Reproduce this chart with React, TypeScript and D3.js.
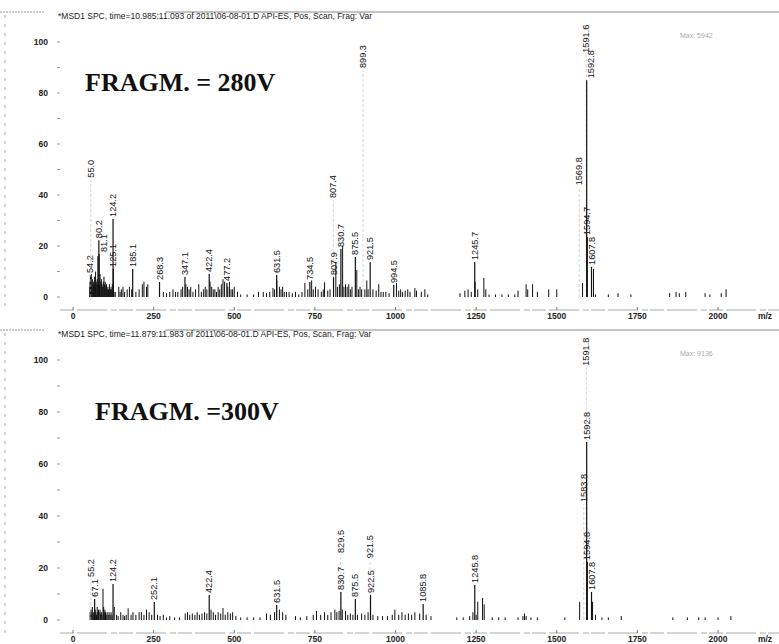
import React from "react";
import * as d3 from "d3";

// ---- data (m/z, relative abundance %) ----
const topTitle = "*MSD1 SPC, time=10.985:11.093 of 2011\\06-08-01.D    API-ES, Pos, Scan, Frag: Var";
const bottomTitle = "*MSD1 SPC, time=11.879:11.983 of 2011\\06-08-01.D    API-ES, Pos, Scan, Frag: Var";
const topMax = "Max: 5942";
const bottomMax = "Max: 9136";
const topFragm = "FRAGM. = 280V";
const bottomFragm = "FRAGM. =300V";

const xTicks = [0, 250, 500, 750, 1000, 1250, 1500, 1750, 2000];
const yTicks = [0, 20, 40, 60, 80, 100];

const topLabeled: [number, number][] = [
  [54.2, 8.6], [55.0, 46], [80.2, 22.3], [81.1, 16.9], [124.2, 30.6], [125.1, 11],
  [185.1, 11], [268.3, 5.9], [347.1, 7.8], [422.4, 9], [477.2, 5.5], [631.5, 8.6],
  [734.5, 5.9], [807.4, 38], [807.9, 7.8], [830.7, 18.8], [875.5, 15.7], [899.3, 89],
  [921.5, 13.7], [994.5, 4.7], [1245.7, 13.7], [1569.8, 43], [1591.6, 95],
  [1592.8, 85], [1594.7, 23.5], [1607.8, 11.8],
];

const topMinor: [number, number][] = [
  [52, 4], [53, 6], [56, 5], [57, 9], [58, 4], [60, 7], [62, 5], [64, 6], [65, 4],
  [67, 8], [68, 5], [70, 10], [72, 6], [74, 5], [75, 7], [77, 16], [78, 6], [82, 5],
  [84, 9], [86, 6], [88, 7], [90, 5], [92, 4], [94, 6], [96, 8], [98, 5], [100, 6],
  [102, 4], [104, 5], [106, 3], [108, 4], [110, 3], [113, 5], [116, 3], [118, 4],
  [120, 3], [122, 5], [127, 2], [131, 2], [142, 4], [146, 2], [150, 3], [155, 4],
  [160, 2], [168, 3], [175, 4], [182, 3], [195, 2], [205, 3], [215, 5], [220, 6],
  [228, 4], [232, 5], [280, 2], [290, 1.5], [300, 2], [310, 3], [318, 2], [325, 2],
  [335, 3], [340, 4], [350, 5], [355, 4], [360, 3], [365, 4], [372, 2], [380, 3],
  [390, 5], [398, 2], [405, 3], [410, 4], [415, 3], [425, 6], [430, 4], [435, 3],
  [440, 3], [445, 2], [450, 4], [455, 3], [460, 5], [465, 7], [470, 6], [480, 4],
  [485, 6], [490, 3], [495, 3], [500, 4], [510, 2], [520, 1], [540, 1], [560, 1],
  [575, 2], [590, 2], [600, 1.5], [610, 2], [620, 3.5], [625, 3], [632, 6.5],
  [640, 4], [645, 3], [650, 4], [655, 2], [662, 2], [670, 2], [680, 1.5], [690, 2],
  [700, 1], [710, 2], [719, 5.5], [728, 3], [740, 6.5], [745, 3], [752, 4], [760, 3],
  [770, 2], [776, 3], [780, 5.8], [790, 2.5], [797, 3], [815, 13.7], [820, 4],
  [826, 5], [836, 20], [840, 4], [845, 5], [850, 4], [855, 5], [860, 3], [865, 4],
  [880, 10.6], [885, 3], [890, 4], [895, 3], [905, 3], [911, 6.5], [915, 3],
  [930, 3], [940, 2.5], [948, 5], [955, 2], [962, 2], [970, 2], [980, 1.5],
  [1003, 5.5], [1010, 2.5], [1016, 3], [1022, 2], [1030, 2.5], [1038, 3], [1045, 2],
  [1060, 3.5], [1065, 2.5], [1080, 2], [1091, 3], [1100, 1], [1200, 1.5],
  [1215, 2.5], [1225, 3], [1235, 2], [1247, 6], [1255, 3], [1274, 7.5], [1280, 3],
  [1290, 1], [1310, 1], [1330, 1], [1350, 1], [1370, 1], [1380, 2.5], [1405, 5],
  [1410, 3], [1425, 5], [1440, 2], [1475, 3], [1500, 3], [1580, 5.5], [1614, 11],
  [1620, 1], [1660, 1], [1690, 1.5], [1730, 1], [1850, 1.5], [1870, 2], [1880, 1.5],
  [1900, 2], [1960, 1.5], [1975, 1], [2010, 1.5], [2025, 3],
];

const bottomLabeled: [number, number][] = [
  [55.2, 15.8], [67.1, 8.1], [124.2, 13.8], [252.1, 6.9], [422.4, 9.6], [631.5, 5.8],
  [829.5, 25], [830.7, 10.8], [875.5, 8.1], [921.5, 23], [922.5, 9.6], [1085.8, 6.2],
  [1245.8, 13.5], [1583.8, 44.6], [1591.8, 97], [1592.8, 68.5], [1594.8, 22.3],
  [1607.8, 10.8],
];

const bottomMinor: [number, number][] = [
  [53, 3], [56, 4], [58, 3], [60, 5], [63, 3], [65, 2], [69, 4], [71, 3], [73, 2],
  [75, 5], [77, 3], [79, 4], [81, 3], [84, 4], [86, 2.5], [88, 3], [90, 2], [93, 12],
  [95, 5], [97, 3], [99, 4], [101, 3], [103, 2], [106, 3], [109, 2], [112, 3],
  [115, 2], [118, 3], [121, 2], [128, 5], [135, 2], [140, 1.5], [148, 3], [155, 2],
  [160, 1.5], [165, 2], [171, 4.5], [180, 2], [186, 3], [195, 2], [205, 3],
  [212, 3], [220, 2], [228, 4], [236, 3], [244, 2], [262, 2], [270, 1.5], [280, 2],
  [290, 1], [300, 1.5], [315, 1], [330, 1], [348, 2.5], [355, 3], [362, 2],
  [370, 2.5], [378, 2], [385, 3], [392, 2], [400, 2.5], [408, 3], [415, 2.5],
  [428, 4], [435, 3], [442, 2], [450, 3], [458, 2.5], [465, 4.6], [472, 2],
  [480, 3], [488, 2.5], [495, 3], [505, 1.5], [520, 1], [540, 1], [560, 1],
  [580, 1], [600, 2.5], [612, 2], [625, 3], [640, 4], [650, 3], [660, 2],
  [690, 1.5], [705, 1], [725, 1.5], [745, 2], [755, 3.5], [768, 2], [780, 3],
  [790, 2], [800, 3], [812, 4], [818, 3], [825, 3.5], [835, 4], [845, 3.5],
  [852, 2], [860, 2.5], [868, 2], [882, 2], [895, 2.5], [905, 2], [915, 3],
  [930, 2], [945, 1.5], [960, 1.5], [975, 1.5], [990, 2], [998, 4], [1010, 2],
  [1020, 3], [1030, 2], [1040, 2.5], [1050, 2], [1060, 3], [1075, 2.5], [1095, 2],
  [1110, 1.5], [1190, 1], [1210, 1], [1230, 1.5], [1240, 3], [1250, 2], [1255, 7],
  [1270, 8.5], [1275, 6], [1300, 1], [1320, 1], [1340, 1], [1380, 1], [1395, 1.5],
  [1400, 2.5], [1405, 1.5], [1420, 1], [1440, 1], [1525, 1], [1571, 7], [1611, 7],
  [1620, 2], [1640, 1], [1660, 1], [1700, 1.5], [1860, 1], [1905, 1], [1940, 1],
  [1960, 1], [2000, 1], [2040, 1.5],
];

// tall single-scan lines that came out almost invisible on the scanned page
const faintTop = [899.3, 1591.6, 55.0, 807.4, 1569.8];
const faintBottom = [1591.8, 1583.8, 829.5, 921.5, 55.2];

const W = 779;
const H = 644;
const font = "Arial, 'Liberation Sans', sans-serif";

type PanelProps = {
  top: number; // y of 100 %
  base: number; // y of 0 %
  title: string;
  max: string;
  fragm: string;
  fragmX: number;
  fragmY: number;
  labeled: [number, number][];
  minor: [number, number][];
  faint: number[];
};

const Panel = ({ top, base, title, max, fragm, fragmX, fragmY, labeled, minor, faint }: PanelProps) => {
  const x = d3.scaleLinear().domain([0, 2000]).range([73, 718]);
  const y = d3.scaleLinear().domain([0, 100]).range([base, top]);
  const titleY = top - 27;
  const axisY = base + 13;
  const minorTicks = d3.range(0, 101, 10);

  // nudge labels that would sit right on top of a neighbour
  const placed: { lx: number; y0: number; y1: number }[] = [];
  const labels = labeled.map(([mz, v]) => {
    const y1 = y(v) - 2;
    const y0 = y1 - mz.toFixed(1).length * 5;
    let lx = x(mz);
    placed.forEach((p) => {
      const overlap = Math.min(y1, p.y1) - Math.max(y0, p.y0);
      if (Math.abs(p.lx - lx) < 6 && overlap > 4) lx = p.lx + 5;
    });
    placed.push({ lx, y0, y1 });
    return { mz, v, lx };
  });

  return (
    <g>
      {/* page borders from the scan */}
      <line x1={0} x2={45} y1={titleY - 3} y2={titleY - 3} stroke="#999" strokeDasharray="2 1" />
      <line x1={165} x2={W} y1={titleY - 3} y2={titleY - 3} stroke="#888" strokeWidth={1} />
      <line x1={5} x2={5} y1={titleY} y2={axisY} stroke="#aaa" strokeDasharray="3 6" />
      <text x={58} y={titleY + 4} fontFamily={font} fontSize={8.5} fill="#222">{title}</text>
      <text x={680} y={top - 4} fontFamily={font} fontSize={7} fill="#aaa">{max}</text>

      {/* y axis */}
      {minorTicks.map((t) => (
        <line key={t} x1={57} x2={60} y1={y(t)} y2={y(t)} stroke="#999" />
      ))}
      {yTicks.map((t) => (
        <text key={t} x={48} y={y(t) + 3} textAnchor="end" fontFamily={font} fontSize={8.5} fontWeight={600} fill="#222">{t}</text>
      ))}

      {/* x axis */}
      <line x1={60} x2={W} y1={axisY} y2={axisY} stroke="#aaa" strokeDasharray="14 3 30 4 6 2" />
      {xTicks.map((t) => (
        <g key={t}>
          <line x1={x(t)} x2={x(t)} y1={axisY - 3} y2={axisY} stroke="#777" />
          <text x={x(t)} y={axisY + 9} textAnchor="middle" fontFamily={font} fontSize={8.5} fontWeight={600} fill="#222">{t}</text>
        </g>
      ))}
      <text x={765} y={axisY + 9} textAnchor="middle" fontFamily={font} fontSize={8.5} fontWeight={600} fill="#222">m/z</text>

      {/* spectrum */}
      {minor.map(([mz, v], i) => (
        <line key={"m" + i} x1={x(mz)} x2={x(mz)} y1={y(0)} y2={y(v)} stroke="#111" strokeWidth={1} />
      ))}
      {labels.map(({ mz, v, lx }) => {
        const isFaint = faint.includes(mz);
        return (
          <g key={"l" + mz}>
            <line x1={x(mz)} x2={x(mz)} y1={y(0)} y2={y(v)}
              stroke={isFaint ? "#bbb" : "#111"} strokeWidth={isFaint ? 0.6 : 1.2}
              strokeDasharray={isFaint ? "3 2" : undefined} />
            <text transform={`translate(${lx + 3},${y(v) - 2}) rotate(-90)`}
              fontFamily={font} fontSize={9.2} fill="#111">{mz.toFixed(1)}</text>
          </g>
        );
      })}

      <text x={fragmX} y={fragmY} fontFamily="'Liberation Serif', 'Times New Roman', serif"
        fontWeight="bold" fontSize={26} fill="#111">{fragm}</text>
    </g>
  );
};

export default function App() {
  return (
    <svg width={W} height={H} style={{ position: "absolute", left: 0, top: 0, background: "#fff" }}>
      <rect width={W} height={H} fill="#fff" />
      <Panel top={42} base={297} title={topTitle} max={topMax} fragm={topFragm} fragmX={85} fragmY={91}
        labeled={topLabeled} minor={topMinor} faint={faintTop} />
      <Panel top={360} base={620} title={bottomTitle} max={bottomMax} fragm={bottomFragm} fragmX={95} fragmY={420}
        labeled={bottomLabeled} minor={bottomMinor} faint={faintBottom} />
    </svg>
  );
}
